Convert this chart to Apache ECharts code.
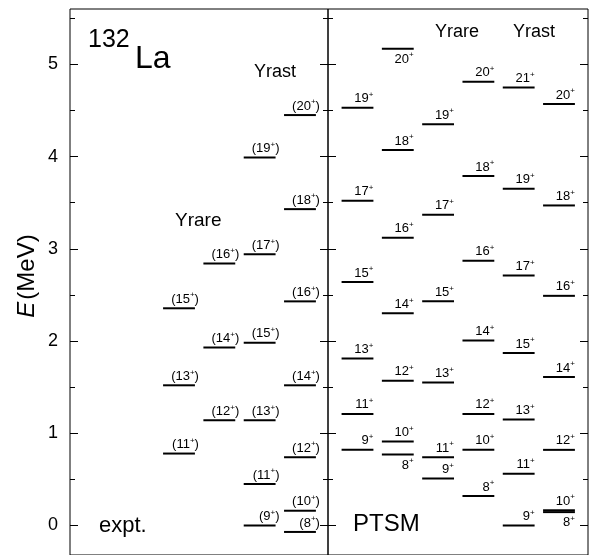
<!DOCTYPE html>
<html>
<head>
<meta charset="utf-8">
<script src="https://cdn.jsdelivr.net/npm/echarts@6/dist/echarts.min.js"></script>
<style>
  html, body { margin: 0; padding: 0; background: #fff; }
  #chart { width: 593px; height: 555px; }
</style>
</head>
<body>
<div id="chart"></div>
<script>
  // 能级数据 (MeV)
  const yTicks = [0, 1, 2, 3, 4, 5]
  const yMinorTicks = [0.5, 1.5, 2.5, 3.5, 4.5, 5.5]

  // 实验值: 列 0..3
  const exptSpin = [11, 13, 15, 12, 14, 16, 9, 11, 13, 15, 17, 19, 8, 10, 12, 14, 16, 18, 20]
  const exptEnergy = [0.78, 1.52, 2.355, 1.14, 1.93, 2.84, 0.00, 0.45, 1.14, 1.98, 2.94, 3.99, -0.07, 0.16, 0.74, 1.52, 2.43, 3.43, 4.45]
  const exptColumn = [0, 0, 0, 1, 1, 1, 2, 2, 2, 2, 2, 2, 3, 3, 3, 3, 3, 3, 3]

  // PTSM 计算值: 列 0..5
  const ptsmSpin = [9, 11, 13, 15, 17, 19,
    8, 10, 12, 14, 16, 18, 20,
    9, 11, 13, 15, 17, 19,
    8, 10, 12, 14, 16, 18, 20,
    9, 11, 13, 15, 17, 19, 21,
    8, 10, 12, 14, 16, 18, 20]
  const ptsmEnergy = [0.82, 1.21, 1.81, 2.64, 3.52, 4.53,
    0.77, 0.91, 1.57, 2.30, 3.12, 4.07, 5.17,
    0.51, 0.74, 1.55, 2.43, 3.37, 4.35,
    0.32, 0.82, 1.21, 2.005, 2.87, 3.79, 4.81,
    0.00, 0.56, 1.15, 1.87, 2.71, 3.65, 4.75,
    0.145, 0.165, 0.82, 1.61, 2.49, 3.47, 4.57]
  const ptsmColumn = [0, 0, 0, 0, 0, 0,
    1, 1, 1, 1, 1, 1, 1,
    2, 2, 2, 2, 2, 2,
    3, 3, 3, 3, 3, 3, 3,
    4, 4, 4, 4, 4, 4, 4,
    5, 5, 5, 5, 5, 5, 5]
  // 标签画在线下方的能级
  const ptsmLabelBelow = [0, 0, 0, 0, 0, 0,
    1, 0, 0, 0, 0, 0, 1,
    0, 0, 0, 0, 0, 0,
    0, 0, 0, 0, 0, 0, 0,
    0, 0, 0, 0, 0, 0, 0,
    1, 0, 0, 0, 0, 0, 0]

  const font = '"Liberation Sans", Arial, Helvetica, sans-serif'
  const eMin = -0.32
  const eMax = 5.6
  const barWidth = 0.79

  let chart = echarts.init(document.getElementById('chart'))

  function makeData(spin, energy, column, below) {
    return spin.map((s, i) => [column[i], energy[i], s, below ? below[i] : 0])
  }

  function levelRenderer(paren, labelDx) {
    return function(params, api) {
      let p = api.coord([api.value(0), api.value(1)])
      let half = api.size([barWidth, 0])[0] / 2
      let spin = api.value(2)
      let below = api.value(3) > 0
      let text = paren ? '{n|(' + spin + '}{s|+}{n|)}' : '{n|' + spin + '}{s|+}'
      return {
        type: 'group',
        children: [{
          type: 'line',
          shape: { x1: p[0] - half, y1: p[1], x2: p[0] + half, y2: p[1] },
          style: { stroke: '#000', lineWidth: 2 }
        }, {
          type: 'text',
          x: p[0] + half + labelDx,
          y: below ? p[1] + 2.5 : p[1] - 1,
          style: {
            text: text,
            align: 'right',
            verticalAlign: below ? 'top' : 'bottom',
            fill: '#000',
            fontFamily: font,
            rich: {
              n: { fontSize: 13, lineHeight: 16, fontFamily: font, fill: '#000' },
              s: { fontSize: 8, lineHeight: 4, verticalAlign: 'top', fontFamily: font, fill: '#000' }
            }
          }
        }]
      }
    }
  }

  function yAxisOf(grid, pos, ticks, len, labels) {
    return {
      gridIndex: grid,
      type: 'value',
      min: eMin,
      max: eMax,
      position: pos,
      axisLine: { show: false, onZero: false },
      splitLine: { show: false },
      axisTick: {
        show: true,
        inside: true,
        length: len,
        customValues: ticks,
        lineStyle: { color: '#000', width: 1 }
      },
      axisLabel: labels ? {
        show: true,
        customValues: yTicks,
        margin: 12,
        fontSize: 18,
        fontFamily: font,
        color: '#000'
      } : { show: false }
    }
  }

  let option = {
    animation: false,
    backgroundColor: '#fff',
    grid: [{
      left: 70, width: 258, top: 9, bottom: -2,
      show: true, borderColor: '#000', borderWidth: 1
    }, {
      left: 328, width: 260, top: 9, bottom: -2,
      show: true, borderColor: '#000', borderWidth: 1
    }],
    xAxis: [
      { gridIndex: 0, type: 'value', min: -2.703, max: 3.695, show: false },
      { gridIndex: 1, type: 'value', min: -0.732, max: 5.72, show: false }
    ],
    yAxis: [
      yAxisOf(0, 'left', yTicks, 8, true),
      yAxisOf(0, 'left', yMinorTicks, 5, false),
      yAxisOf(0, 'right', yTicks, 8, false),
      yAxisOf(0, 'right', yMinorTicks, 5, false),
      yAxisOf(1, 'left', yTicks, 8, false),
      yAxisOf(1, 'left', yMinorTicks, 5, false),
      yAxisOf(1, 'right', yTicks, 8, false),
      yAxisOf(1, 'right', yMinorTicks, 5, false)
    ],
    graphic: [
      { type: 'text', x: 88, y: 40, style: { text: '132', fontSize: 25, fontFamily: font, fill: '#000', verticalAlign: 'middle' } },
      { type: 'text', x: 135, y: 59, style: { text: 'La', fontSize: 32, fontFamily: font, fill: '#000', verticalAlign: 'middle' } },
      { type: 'text', x: 254, y: 72, style: { text: 'Yrast', fontSize: 18, fontFamily: font, fill: '#000', verticalAlign: 'middle' } },
      { type: 'text', x: 175, y: 221, style: { text: 'Yrare', fontSize: 19, fontFamily: font, fill: '#000', verticalAlign: 'middle' } },
      { type: 'text', x: 435, y: 32, style: { text: 'Yrare', fontSize: 18, fontFamily: font, fill: '#000', verticalAlign: 'middle' } },
      { type: 'text', x: 513, y: 32, style: { text: 'Yrast', fontSize: 18, fontFamily: font, fill: '#000', verticalAlign: 'middle' } },
      { type: 'text', x: 99, y: 526, style: { text: 'expt.', fontSize: 22, fontFamily: font, fill: '#000', verticalAlign: 'middle' } },
      { type: 'text', x: 353, y: 524, style: { text: 'PTSM', fontSize: 24, fontFamily: font, fill: '#000', verticalAlign: 'middle' } },
      {
        type: 'text', x: 27, y: 276, rotation: Math.PI / 2,
        style: {
          text: '{i|E}{n|(MeV)}',
          align: 'center', verticalAlign: 'middle',
          rich: {
            i: { fontSize: 24, fontStyle: 'italic', fontFamily: font, fill: '#000' },
            n: { fontSize: 24, fontFamily: font, fill: '#000', padding: [0, 0, 0, 2] }
          }
        }
      }
    ],
    series: [{
      type: 'custom',
      name: 'expt',
      xAxisIndex: 0,
      yAxisIndex: 0,
      renderItem: levelRenderer(true, 4),
      data: makeData(exptSpin, exptEnergy, exptColumn)
    }, {
      type: 'custom',
      name: 'PTSM',
      xAxisIndex: 1,
      yAxisIndex: 4,
      renderItem: levelRenderer(false, 0),
      data: makeData(ptsmSpin, ptsmEnergy, ptsmColumn, ptsmLabelBelow)
    }]
  }
  chart.setOption(option, true)
</script>
</body>
</html>
